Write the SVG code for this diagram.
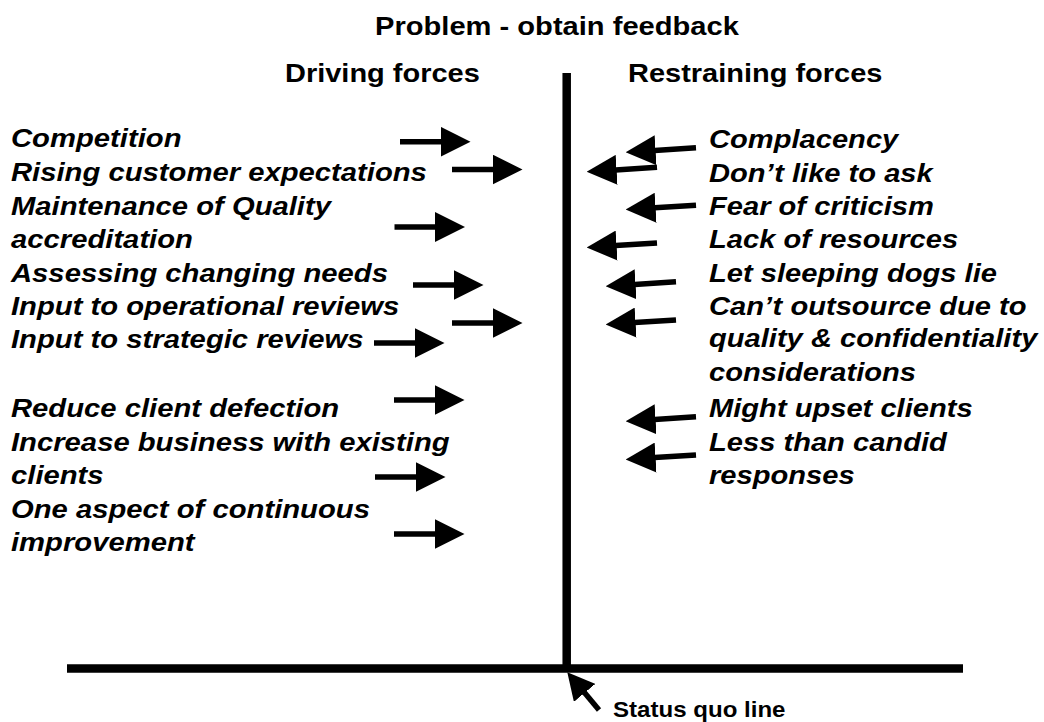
<svg xmlns="http://www.w3.org/2000/svg" width="1044" height="722" viewBox="0 0 1044 722">
  <style>
    text { font-family: "Liberation Sans", Arial, Helvetica, sans-serif; font-weight: bold; font-size: 26px; fill: #000; }
    .item { font-style: italic; }
    .note { font-size: 21.5px; }
    .axis { stroke: #000; stroke-width: 8.5; fill: none; }
    .force { stroke: #000; stroke-width: 5.5; fill: none; marker-end: url(#head); }
    .quo { stroke: #000; stroke-width: 5.5; fill: none; marker-end: url(#headSmall); }
  </style>
  <defs>
    <marker id="head" viewBox="0 0 30 30" refX="1" refY="15" markerWidth="30" markerHeight="30" markerUnits="userSpaceOnUse" orient="auto">
      <path d="M0,0 L30,15 L0,30 Z" fill="#000"/>
    </marker>
    <marker id="headSmall" viewBox="0 0 27 28" refX="1" refY="14" markerWidth="27" markerHeight="28" markerUnits="userSpaceOnUse" orient="auto">
      <path d="M0,0 L27,14 L0,28 Z" fill="#000"/>
    </marker>
  </defs>

  <rect width="1044" height="722" fill="#fff"/>

  <!-- headings -->
  <g id="title" transform="translate(375,34.5) scale(1.12,1)"><text x="0" y="0">Problem - obtain feedback</text></g>
  <g id="driving-head" transform="translate(285,82) scale(1.115,1)"><text x="0" y="0">Driving forces</text></g>
  <g id="restraining-head" transform="translate(628,82) scale(1.115,1)"><text x="0" y="0">Restraining forces</text></g>

  <!-- status quo axes -->
  <g id="axes">
    <line class="axis" x1="566.7" y1="73" x2="566.7" y2="672"/>
    <line class="axis" x1="67" y1="668.5" x2="963" y2="668.5"/>
  </g>

  <!-- driving forces -->
  <g id="d-competition" transform="translate(11,147) scale(1.125,1)"><text class="item" x="0" y="0">Competition</text></g>
  <g id="d-rising" transform="translate(11,181) scale(1.125,1)"><text class="item" x="0" y="0">Rising customer expectations</text></g>
  <g id="d-quality" transform="translate(11,215) scale(1.125,1)"><text class="item"><tspan x="0" y="0">Maintenance of Quality</tspan><tspan x="0" y="33">accreditation</tspan></text></g>
  <g id="d-needs" transform="translate(11,281.5) scale(1.125,1)"><text class="item" x="0" y="0">Assessing changing needs</text></g>
  <g id="d-operational" transform="translate(11,315) scale(1.125,1)"><text class="item" x="0" y="0">Input to operational reviews</text></g>
  <g id="d-strategic" transform="translate(11,347.5) scale(1.125,1)"><text class="item" x="0" y="0">Input to strategic reviews</text></g>
  <g id="d-defection" transform="translate(11,417) scale(1.125,1)"><text class="item" x="0" y="0">Reduce client defection</text></g>
  <g id="d-business" transform="translate(11,451) scale(1.125,1)"><text class="item"><tspan x="0" y="0">Increase business with existing</tspan><tspan x="0" y="33">clients</tspan></text></g>
  <g id="d-improvement" transform="translate(11,518) scale(1.125,1)"><text class="item"><tspan x="0" y="0">One aspect of continuous</tspan><tspan x="0" y="33.5">improvement</tspan></text></g>

  <!-- restraining forces -->
  <g id="r-complacency" transform="translate(709,148) scale(1.12,1)"><text class="item" x="0" y="0">Complacency</text></g>
  <g id="r-ask" transform="translate(709,182) scale(1.12,1)"><text class="item" x="0" y="0">Don’t like to ask</text></g>
  <g id="r-criticism" transform="translate(709,215) scale(1.12,1)"><text class="item" x="0" y="0">Fear of criticism</text></g>
  <g id="r-resources" transform="translate(709,248) scale(1.12,1)"><text class="item" x="0" y="0">Lack of resources</text></g>
  <g id="r-dogs" transform="translate(709,281.5) scale(1.12,1)"><text class="item" x="0" y="0">Let sleeping dogs lie</text></g>
  <g id="r-outsource" transform="translate(709,315) scale(1.12,1)"><text class="item"><tspan x="0" y="0">Can’t outsource due to</tspan><tspan x="0" y="32.5">quality &amp; confidentiality</tspan><tspan x="0" y="66">considerations</tspan></text></g>
  <g id="r-upset" transform="translate(709,417) scale(1.12,1)"><text class="item" x="0" y="0">Might upset clients</text></g>
  <g id="r-candid" transform="translate(709,451) scale(1.12,1)"><text class="item"><tspan x="0" y="0">Less than candid</tspan><tspan x="0" y="33">responses</tspan></text></g>

  <!-- status quo label -->
  <g id="status-quo" transform="translate(613,717) scale(1.12,1)"><text class="note" x="0" y="0">Status quo line</text></g>

  <!-- force arrows -->
  <g id="connectors">
    <line class="force" x1="400" y1="141.7" x2="441.5" y2="141.7"/>
    <line class="force" x1="452" y1="169.5" x2="493.5" y2="169.5"/>
    <line class="force" x1="394.5" y1="227" x2="436" y2="227"/>
    <line class="force" x1="413" y1="285" x2="454.5" y2="285"/>
    <line class="force" x1="452" y1="323" x2="493.5" y2="323"/>
    <line class="force" x1="374" y1="343" x2="415.5" y2="343"/>
    <line class="force" x1="394" y1="400" x2="435.5" y2="400"/>
    <line class="force" x1="375" y1="477" x2="416.5" y2="477"/>
    <line class="force" x1="394" y1="534" x2="435.5" y2="534"/>

    <line class="force" x1="696" y1="147.8" x2="654.6" y2="150.4"/>
    <line class="force" x1="657" y1="167.3" x2="615.6" y2="169.9"/>
    <line class="force" x1="696" y1="205.2" x2="654.6" y2="207.8"/>
    <line class="force" x1="657" y1="243" x2="615.6" y2="245.6"/>
    <line class="force" x1="676" y1="281.8" x2="634.6" y2="284.4"/>
    <line class="force" x1="676" y1="320" x2="634.6" y2="322.6"/>
    <line class="force" x1="696" y1="416.8" x2="654.6" y2="419.4"/>
    <line class="force" x1="696" y1="455" x2="654.6" y2="457.6"/>

    <line class="quo" x1="599" y1="710" x2="584" y2="692.1"/>
  </g>
</svg>
